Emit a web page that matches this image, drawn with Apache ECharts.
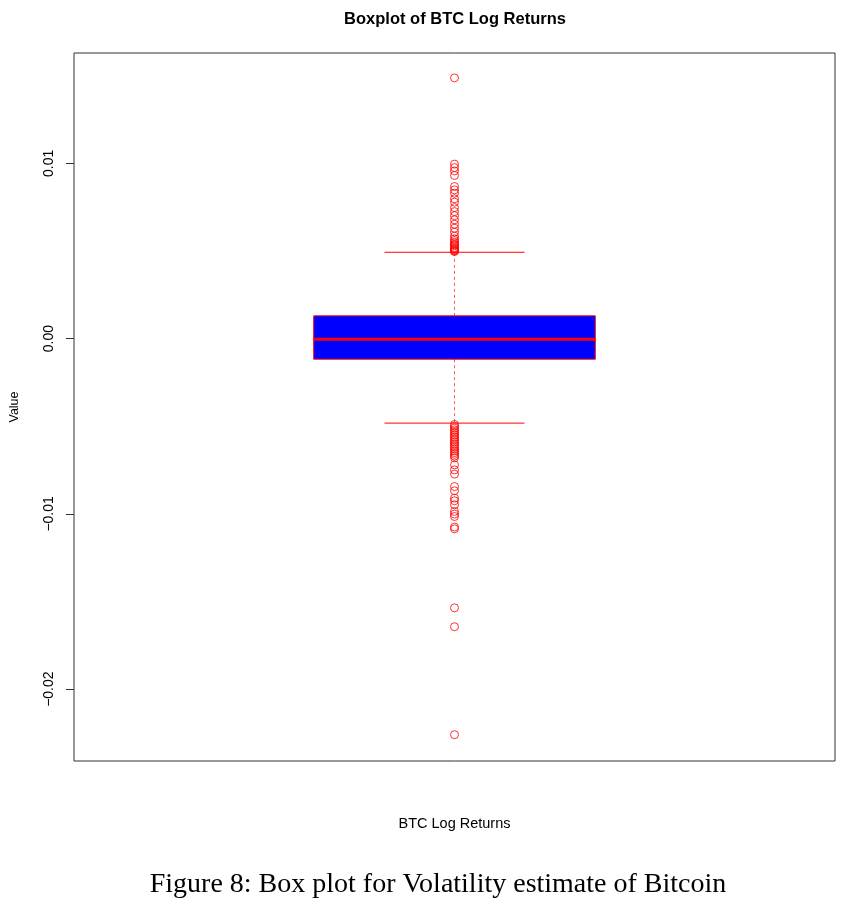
<!DOCTYPE html>
<html>
<head>
<meta charset="utf-8">
<script src="https://cdn.jsdelivr.net/npm/echarts@6/dist/echarts.min.js"></script>
<style>
  html, body { margin: 0; padding: 0; background: #fff; }
  #chart { width: 866px; height: 915px; }
</style>
</head>
<body>
<div id="chart"></div>
<script>
// Datos
const categories = ['BTC Log Returns'];
// bigote inferior, Q1, mediana, Q3, bigote superior
const boxStats = [-0.00482, -0.00117, -0.00003, 0.0013, 0.00493];
const upperOutliers = [
  0.01488, 0.00996, 0.00976, 0.00957, 0.00931, 0.00868, 0.00849, 0.0083,
  0.00798, 0.00779, 0.00748, 0.00725, 0.00702, 0.00678, 0.00653, 0.0063,
  0.00608, 0.00585, 0.0057, 0.0056, 0.0055, 0.0054, 0.00535, 0.0053,
  0.0052, 0.00515, 0.0051, 0.00505, 0.005, 0.00497
];
const lowerOutliers = [
  -0.0049, -0.005, -0.0051, -0.0052, -0.0053, -0.0054, -0.0055, -0.0056,
  -0.0057, -0.0058, -0.0059, -0.006, -0.0061, -0.0062, -0.0063, -0.0064,
  -0.0065, -0.0066, -0.0067, -0.0068, -0.0072, -0.00749, -0.00773,
  -0.00844, -0.00868, -0.0091, -0.00925, -0.00948, -0.00986, -0.01001,
  -0.01015, -0.01075, -0.01085, -0.01536, -0.01644, -0.0226
];
const yTicks = [-0.02, -0.01, 0, 0.01];
const yRange = [-0.0241, 0.0163];

const chart = echarts.init(document.getElementById('chart'));

const outlierData = upperOutliers.concat(lowerOutliers).map(v => [0, v]);

const option = {
  backgroundColor: '#fff',
  animation: false,
  title: [
    {
      text: 'Boxplot of BTC Log Returns',
      left: 450, top: 6, textAlign: 'center',
      textStyle: { fontFamily: 'Liberation Sans', fontSize: 16.5, fontWeight: 'bold', color: '#000' }
    },
    {
      text: 'Figure 8: Box plot for Volatility estimate of Bitcoin',
      left: 433, top: 866, textAlign: 'center',
      textStyle: { fontFamily: 'Liberation Serif', fontSize: 28, fontWeight: 'normal', color: '#000' }
    }
  ],
  grid: {
    left: 74, right: 31, top: 53, bottom: 154,
    outerBoundsMode: 'none',
    show: true, borderColor: '#333', borderWidth: 1, backgroundColor: '#fff'
  },
  xAxis: {
    type: 'category',
    data: categories,
    name: 'BTC Log Returns',
    nameLocation: 'middle',
    nameGap: 55,
    nameTextStyle: { fontFamily: 'Liberation Sans', fontSize: 14.5, color: '#000' },
    axisLine: { show: false },
    axisTick: { show: false },
    axisLabel: { show: false },
    splitLine: { show: false }
  },
  yAxis: {
    type: 'value',
    min: yRange[0],
    max: yRange[1],
    name: 'Value',
    nameLocation: 'middle',
    nameRotate: 90,
    nameGap: 53,
    nameTextStyle: { fontFamily: 'Liberation Sans', fontSize: 12.5, color: '#000' },
    axisLine: { show: false },
    axisTick: { show: true, inside: false, length: 8, customValues: yTicks, lineStyle: { color: '#333' } },
    axisLabel: {
      customValues: yTicks,
      rotate: 90,
      margin: 17.5,
      fontFamily: 'Liberation Sans',
      fontSize: 14,
      color: '#000',
      formatter: v => (v < 0 ? '\u2212' : '') + Math.abs(v).toFixed(2)
    },
    splitLine: { show: false }
  },
  series: [
    {
      type: 'custom',
      data: [[0].concat(boxStats)],
      renderItem: function (params, api) {
        const band = api.size([1, 0])[0];
        const xc = api.coord([api.value(0), 0])[0];
        const boxW = band * 0.37;
        const capW = band * 0.184;
        const yLo = api.coord([0, api.value(1)])[1];
        const yQ1 = api.coord([0, api.value(2)])[1];
        const yMed = api.coord([0, api.value(3)])[1];
        const yQ3 = api.coord([0, api.value(4)])[1];
        const yHi = api.coord([0, api.value(5)])[1];
        const dash = { stroke: '#ff5a5a', lineWidth: 1, lineDash: [3, 3] };
        const solid = { stroke: '#ff0000', lineWidth: 1 };
        return {
          type: 'group',
          children: [
            { type: 'line', shape: { x1: xc, y1: yQ3, x2: xc, y2: yHi }, style: dash },
            { type: 'line', shape: { x1: xc, y1: yQ1, x2: xc, y2: yLo }, style: dash },
            { type: 'line', shape: { x1: xc - capW / 2, y1: yHi, x2: xc + capW / 2, y2: yHi }, style: solid },
            { type: 'line', shape: { x1: xc - capW / 2, y1: yLo, x2: xc + capW / 2, y2: yLo }, style: solid },
            { type: 'rect', shape: { x: xc - boxW / 2, y: yQ3, width: boxW, height: yQ1 - yQ3 },
              style: { fill: '#0000ff', stroke: '#ff0000', lineWidth: 1 } },
            { type: 'line', shape: { x1: xc - boxW / 2, y1: yMed, x2: xc + boxW / 2, y2: yMed },
              style: { stroke: '#ff0000', lineWidth: 3 } }
          ]
        };
      }
    },
    {
      type: 'scatter',
      data: outlierData,
      symbol: 'circle',
      symbolSize: 8,
      itemStyle: { color: 'rgba(0,0,0,0)', borderColor: '#ff0000', borderWidth: 1 }
    }
  ]
};

chart.setOption(option);
</script>
</body>
</html>
